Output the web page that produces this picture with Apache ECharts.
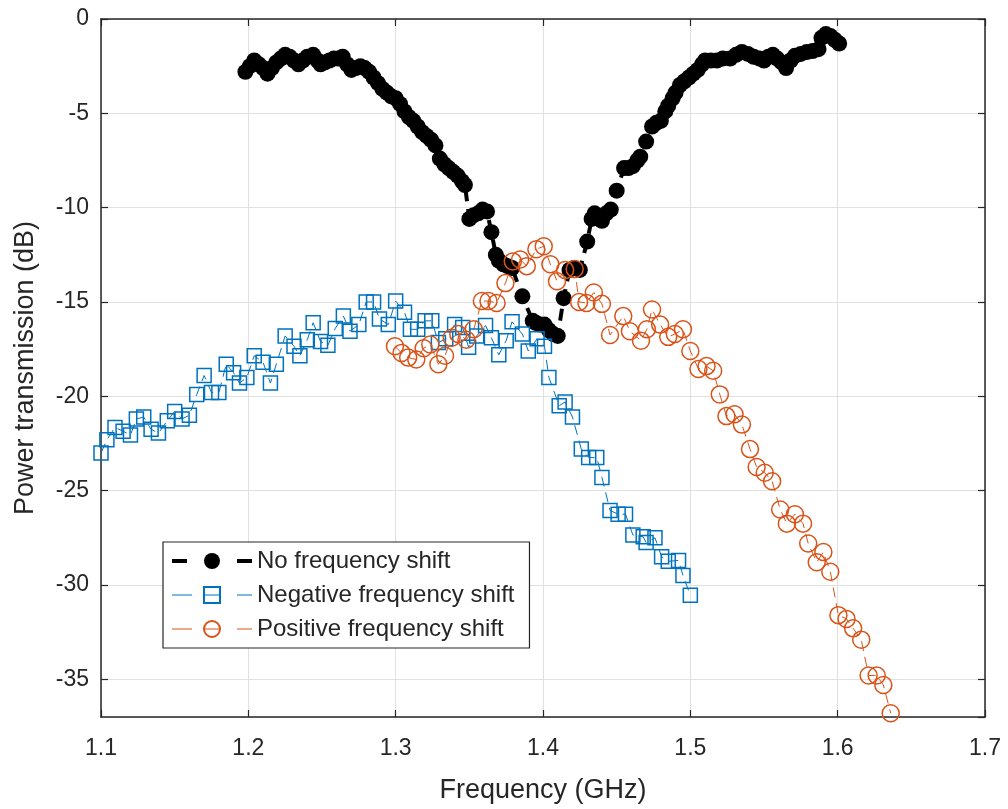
<!DOCTYPE html>
<html>
<head>
<meta charset="utf-8">
<script src="https://cdn.jsdelivr.net/npm/echarts@6/dist/echarts.min.js"></script>
<style>
    html, body { margin: 0; padding: 0; background: #fff; }
    #chart { width: 1008px; height: 809px; }
</style>
</head>
<body>
<div id="chart"></div>
<script>
// [frequency GHz, power dB]
var noShift = [
    [1.198,-2.8],[1.201,-2.5],[1.204,-2.2],[1.207,-2.4],[1.210,-2.6],[1.213,-2.9],[1.216,-2.6],[1.219,-2.3],
    [1.222,-2.1],[1.225,-1.9],[1.228,-2.0],[1.231,-2.2],[1.234,-2.4],[1.237,-2.2],[1.240,-2.0],[1.244,-1.9],
    [1.247,-2.2],[1.249,-2.4],[1.252,-2.3],[1.255,-2.2],[1.258,-2.1],[1.261,-2.1],[1.264,-2.0],[1.267,-2.4],
    [1.270,-2.7],[1.273,-2.6],[1.276,-2.5],[1.279,-2.6],[1.282,-2.8],[1.285,-3.1],[1.288,-3.4],[1.291,-3.7],
    [1.294,-3.9],[1.297,-4.1],[1.300,-4.2],[1.303,-4.5],[1.306,-4.9],[1.309,-5.2],[1.312,-5.4],[1.315,-5.7],
    [1.318,-6.0],[1.321,-6.2],[1.324,-6.4],[1.327,-6.7],[1.330,-7.4],[1.333,-7.7],[1.336,-7.9],[1.339,-8.1],
    [1.342,-8.3],[1.345,-8.6],[1.347,-8.8],[1.350,-10.6],[1.353,-10.4],[1.356,-10.3],[1.359,-10.1],[1.362,-10.2],
    [1.365,-11.3],[1.368,-12.5],[1.370,-12.8],[1.373,-13.0],[1.376,-13.1],[1.379,-13.2],[1.386,-14.7],[1.393,-16.0],
    [1.395,-16.1],[1.398,-16.2],[1.401,-16.2],[1.404,-16.5],[1.407,-16.7],[1.410,-16.8],[1.414,-14.8],[1.418,-13.3],
    [1.421,-13.2],[1.425,-13.3],[1.430,-11.8],[1.433,-10.6],[1.435,-10.3],[1.438,-10.6],[1.440,-10.7],[1.443,-10.3],
    [1.446,-10.1],[1.450,-9.1],[1.455,-7.9],[1.458,-7.9],[1.461,-7.8],[1.464,-7.5],[1.466,-7.3],[1.470,-6.5],
    [1.474,-5.7],[1.477,-5.5],[1.480,-5.4],[1.483,-4.9],[1.485,-4.6],[1.488,-4.2],[1.490,-3.9],[1.493,-3.5],
    [1.496,-3.3],[1.499,-3.1],[1.502,-2.9],[1.505,-2.7],[1.508,-2.4],[1.510,-2.2],[1.514,-2.2],[1.518,-2.2],
    [1.522,-2.1],[1.527,-2.1],[1.531,-1.9],[1.535,-1.75],[1.539,-1.85],[1.543,-2.0],[1.547,-2.1],[1.550,-2.2],
    [1.553,-2.0],[1.556,-1.9],[1.559,-2.1],[1.562,-2.3],[1.565,-2.6],[1.568,-2.2],[1.571,-1.95],[1.575,-1.85],
    [1.579,-1.75],[1.583,-1.7],[1.587,-1.6],[1.589,-1.0],[1.592,-0.8],[1.595,-0.9],[1.598,-1.1],[1.601,-1.3]
];

var negShift = [
    [1.100,-23.0],[1.104,-22.3],[1.1095,-21.65],[1.115,-21.85],[1.120,-22.05],[1.124,-21.2],[1.129,-21.1],
    [1.134,-21.75],[1.139,-21.95],[1.145,-21.3],[1.150,-20.8],[1.155,-21.2],[1.160,-21.0],[1.165,-19.9],
    [1.170,-18.9],[1.175,-19.8],[1.180,-19.8],[1.185,-18.3],[1.190,-18.75],[1.194,-19.3],[1.199,-19.0],
    [1.204,-17.85],[1.210,-18.2],[1.215,-19.3],[1.219,-18.3],[1.225,-16.8],[1.231,-17.35],[1.235,-17.85],
    [1.240,-17.0],[1.244,-16.1],[1.249,-17.1],[1.254,-17.3],[1.259,-16.4],[1.2645,-15.75],[1.269,-16.55],
    [1.275,-16.2],[1.280,-15.0],[1.285,-15.0],[1.289,-15.9],[1.295,-16.2],[1.300,-14.95],[1.306,-15.55],
    [1.310,-16.45],[1.315,-16.45],[1.320,-16.0],[1.3245,-16.0],[1.329,-17.15],[1.334,-16.95],[1.340,-16.2],
    [1.3455,-16.35],[1.3495,-17.4],[1.355,-16.8],[1.361,-16.25],[1.365,-16.9],[1.370,-17.8],[1.375,-17.05],
    [1.379,-16.05],[1.386,-16.7],[1.390,-17.6],[1.396,-16.95],[1.401,-17.35],[1.404,-19.0],[1.411,-20.5],
    [1.415,-20.3],[1.420,-21.1],[1.426,-22.8],[1.431,-23.25],[1.4365,-23.25],[1.440,-24.3],[1.4455,-26.05],
    [1.451,-26.25],[1.456,-26.25],[1.461,-27.35],[1.468,-27.45],[1.470,-27.75],[1.476,-27.5],[1.4805,-28.5],
    [1.485,-28.75],[1.492,-28.7],[1.495,-29.5],[1.500,-30.55]
];

var posShift = [
    [1.2995,-17.35],[1.304,-17.7],[1.3085,-17.95],[1.314,-18.05],[1.319,-17.45],[1.3235,-17.25],[1.329,-18.3],
    [1.3335,-17.85],[1.338,-16.9],[1.3425,-16.7],[1.348,-17.0],[1.353,-16.45],[1.3585,-14.95],[1.363,-14.95],
    [1.3685,-15.05],[1.3745,-14.0],[1.3795,-12.85],[1.3845,-12.75],[1.389,-13.1],[1.3955,-12.2],[1.4005,-12.05],
    [1.405,-13.0],[1.4095,-13.9],[1.415,-13.3],[1.4215,-13.25],[1.4245,-15.0],[1.4295,-15.05],[1.4345,-14.5],
    [1.440,-15.1],[1.4455,-16.75],[1.4545,-15.75],[1.459,-16.55],[1.4665,-17.05],[1.4705,-16.45],[1.474,-15.4],
    [1.4795,-16.2],[1.485,-16.85],[1.4895,-16.7],[1.495,-16.45],[1.500,-17.6],[1.5055,-18.55],[1.511,-18.4],
    [1.5155,-18.65],[1.520,-19.9],[1.5245,-21.05],[1.530,-20.95],[1.535,-21.5],[1.5405,-22.8],[1.545,-23.75],
    [1.5505,-24.05],[1.5555,-24.5],[1.561,-26.0],[1.5655,-26.75],[1.571,-26.25],[1.5765,-26.75],[1.580,-27.8],
    [1.5858,-28.8],[1.5903,-28.25],[1.595,-29.3],[1.6005,-31.6],[1.606,-31.8],[1.6105,-32.3],[1.616,-32.9],
    [1.621,-34.8],[1.6265,-34.8],[1.631,-35.3],[1.636,-36.8]
];

var seriesNames = ['No frequency shift', 'Negative frequency shift', 'Positive frequency shift'];
var xRange = [1.1, 1.7];
var yRange = [-37, 0];

var textColor = '#262626';
var fontFamily = '"Liberation Sans", Arial, Helvetica, sans-serif';

var chart = echarts.init(document.getElementById('chart'));

var boxAxis = function (pos, isX) {
    var ax = {
        type: 'value',
        position: pos,
        min: isX ? xRange[0] : yRange[0],
        max: isX ? xRange[1] : yRange[1],
        axisLine: { show: true, onZero: false, lineStyle: { color: textColor, width: 1.5 } },
        axisTick: { show: true, inside: true, length: 7, lineStyle: { color: textColor, width: 1.2 } },
        axisLabel: { show: false },
        splitLine: { show: false }
    };
    if (isX) {
        ax.interval = 0.1;
    } else {
        ax.splitNumber = 8;
    }
    return ax;
};

var xBottom = boxAxis('bottom', true);
xBottom.name = 'Frequency (GHz)';
xBottom.nameLocation = 'middle';
xBottom.nameGap = 60;
xBottom.nameTextStyle = { fontSize: 27, color: textColor, fontFamily: fontFamily };
xBottom.axisLabel = { show: true, fontSize: 23, color: textColor, fontFamily: fontFamily, margin: 20,
    formatter: function (v) { return v.toFixed(1); } };
xBottom.splitLine = { show: true, lineStyle: { color: '#e0e0e0', width: 1 } };

var yLeft = boxAxis('left', false);
yLeft.name = 'Power transmission (dB)';
yLeft.nameLocation = 'middle';
yLeft.nameGap = 62;
yLeft.nameTextStyle = { fontSize: 27, color: textColor, fontFamily: fontFamily };
yLeft.axisLabel = { show: true, fontSize: 23, color: textColor, fontFamily: fontFamily, margin: 12,
    showMinLabel: false };
yLeft.splitLine = { show: true, lineStyle: { color: '#e0e0e0', width: 1 } };

var toPairs = function (list) {
    return list.map(function (p) { return [p[0], p[1]]; });
};

var option = {
    animation: false,
    backgroundColor: '#fff',
    grid: { left: 101, right: 23, top: 19, bottom: 92 },
    xAxis: [xBottom, boxAxis('top', true)],
    yAxis: [yLeft, boxAxis('right', false)],
    legend: {
        orient: 'vertical',
        left: 163,
        top: 542,
        padding: [6, 15, 6, 7],
        itemWidth: 80,
        itemHeight: 20,
        itemGap: 8,
        borderColor: textColor,
        borderWidth: 1.2,
        borderRadius: 0,
        backgroundColor: '#fff',
        textStyle: { fontSize: 24, color: textColor, fontFamily: fontFamily, lineHeight: 26 },
        data: [
            { name: seriesNames[0], lineStyle: { width: 4, type: [15, 50, 15] } },
            { name: seriesNames[1], lineStyle: { width: 1, type: [20, 12, 16, 17, 15] } },
            { name: seriesNames[2], lineStyle: { width: 1, type: [20, 12, 16, 17, 15] } }
        ]
    },
    series: [{
        name: seriesNames[0],
        type: 'line',
        data: toPairs(noShift),
        symbol: 'circle',
        symbolSize: 16,
        itemStyle: { color: '#000' },
        lineStyle: { color: '#000', width: 4, type: [12, 8] }
    }, {
        name: seriesNames[1],
        type: 'line',
        data: toPairs(negShift),
        symbol: 'rect',
        symbolSize: 14,
        itemStyle: { color: 'rgba(255,255,255,0)', borderColor: '#0072BD', borderWidth: 1.5 },
        lineStyle: { color: '#0072BD', width: 1, type: [10, 6] }
    }, {
        name: seriesNames[2],
        type: 'line',
        data: toPairs(posShift),
        symbol: 'circle',
        symbolSize: 17,
        itemStyle: { color: 'rgba(255,255,255,0)', borderColor: '#D95319', borderWidth: 1.5 },
        lineStyle: { color: '#D95319', width: 1, type: [10, 6] }
    }]
};

chart.setOption(option);
</script>
</body>
</html>
